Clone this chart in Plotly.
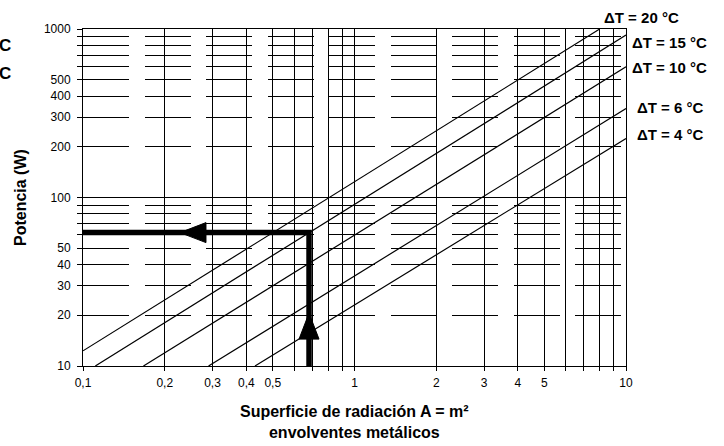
import plotly.graph_objects as go

# ---- data ----
# delta-T curves: two end points each (area m², power W)
dt_labels = ["ΔT = 20 °C", "ΔT = 15 °C", "ΔT = 10 °C", "ΔT = 6 °C", "ΔT = 4 °C"]
area_20 = [0.1, 8.0]
power_20 = [12.3, 1000]
area_15 = [0.111, 10]
power_15 = [10, 920]
area_10 = [0.167, 10]
power_10 = [10, 597]
area_6 = [0.29, 10]
power_6 = [10, 337]
area_4 = [0.43, 10]
power_4 = [10, 224]

# worked example (thick arrow path)
arrow_area = [0.68, 0.68, 0.098]
arrow_power = [9.7, 61.9, 61.9]
arrow_up_tip = [0.68, 20.6]
arrow_left_tip = [0.2276, 61.9]

# axis ticks
x_tickvals = [0.1, 0.2, 0.3, 0.4, 0.5, 0.6, 0.7, 0.8, 0.9,
              1, 2, 3, 4, 5, 6, 7, 8, 9, 10]
x_ticktext = ["0,1", "0,2", "0,3", "0,4", "0,5", "", "", "", "",
              "1", "2", "3", "4", "5", "", "", "", "", "10"]
y_tickvals = [10, 20, 30, 40, 50, 60, 70, 80, 90,
              100, 200, 300, 400, 500, 600, 700, 800, 900, 1000]
y_ticktext = ["10", "20", "30", "40", "50", "", "", "", "",
              "100", "200", "300", "400", "500", "", "", "", "", "1000"]

FONT = "Liberation Sans, Arial, sans-serif"

fig = go.Figure()
series = [(area_20, power_20), (area_15, power_15), (area_10, power_10),
          (area_6, power_6), (area_4, power_4)]
for (a, p), name in zip(series, dt_labels):
    fig.add_trace(go.Scatter(x=a, y=p, mode="lines", name=name,
                             line=dict(color="black", width=1.2),
                             showlegend=False, hoverinfo="skip"))

fig.add_trace(go.Scatter(x=arrow_area, y=arrow_power, mode="lines",
                         line=dict(color="black", width=5.5),
                         cliponaxis=False, showlegend=False, hoverinfo="skip"))

shapes = []
# solid major gridline at 100
shapes.append(dict(type="line", xref="paper", x0=0, x1=1, yref="y", y0=100, y1=100,
                   line=dict(color="black", width=1)))
# arrow heads
shapes.append(dict(type="path", xref="x", yref="y", xsizemode="pixel", ysizemode="pixel",
                   xanchor=arrow_up_tip[0], yanchor=arrow_up_tip[1],
                   path="M0,0 L-10,-26 L10,-26 Z",
                   fillcolor="black", line=dict(color="black", width=1)))
shapes.append(dict(type="path", xref="x", yref="y", xsizemode="pixel", ysizemode="pixel",
                   xanchor=arrow_left_tip[0], yanchor=arrow_left_tip[1],
                   path="M0,0 L26,10 L26,-10 Z",
                   fillcolor="black", line=dict(color="black", width=1)))

annotations = []
label_pos = [(0.956, 1.0356), (1.0074, 0.9614), (1.0074, 0.887),
             (1.0166, 0.7685), (1.0166, 0.688)]
for name, (xp, yp) in zip(dt_labels, label_pos):
    annotations.append(dict(text=name, xref="paper", yref="paper", x=xp, y=yp,
                            xanchor="left", yanchor="middle", showarrow=False,
                            font=dict(family=FONT, size=15, color="black", weight="bold")))
# fragments of labels cut by the left edge in the original
for yp in [0.9496, 0.8665]:
    annotations.append(dict(text="C", xref="paper", yref="paper", x=-0.1585, y=yp,
                            xanchor="left", yanchor="middle", showarrow=False,
                            font=dict(family=FONT, size=17, color="black", weight="bold")))
annotations.append(dict(text="Superficie de radiación A = m²<br>envolventes metálicos",
                        xref="paper", yref="paper", x=0.5, y=-0.1647,
                        xanchor="center", yanchor="middle", showarrow=False,
                        font=dict(family=FONT, size=16, color="black", weight="bold")))
annotations.append(dict(text="Potencia (W)", xref="paper", yref="paper", x=-0.116, y=0.4985,
                        xanchor="center", yanchor="middle", textangle=-90, showarrow=False,
                        font=dict(family=FONT, size=16, color="black", weight="bold")))

fig.update_layout(
    width=724, height=446,
    margin=dict(l=83, r=98, t=29, b=80),
    paper_bgcolor="white", plot_bgcolor="white",
    font=dict(family=FONT, size=12, color="black"),
    shapes=shapes, annotations=annotations,
    showlegend=False,
)
fig.update_xaxes(type="log", range=[-1, 1], tickvals=x_tickvals, ticktext=x_ticktext,
                 showgrid=True, gridcolor="black", gridwidth=1,
                 showline=True, linecolor="black", linewidth=1, mirror=True,
                 ticks="outside", ticklen=4, tickcolor="black", tickwidth=1,
                 ticklabelstandoff=2, tickfont=dict(size=12), zeroline=False)
fig.update_yaxes(type="log", range=[1, 3], tickvals=y_tickvals, ticktext=y_ticktext,
                 showgrid=True, gridcolor="black", gridwidth=1, griddash="46px,15.5px",
                 showline=True, linecolor="black", linewidth=1, mirror=True,
                 ticks="outside", ticklen=5, tickcolor="black", tickwidth=1,
                 ticklabelstandoff=4, tickfont=dict(size=12), zeroline=False)

fig.write_html("out.html", config={"displayModeBar": False},
               post_script="document.body.style.margin='0';document.body.style.overflow='hidden';")
